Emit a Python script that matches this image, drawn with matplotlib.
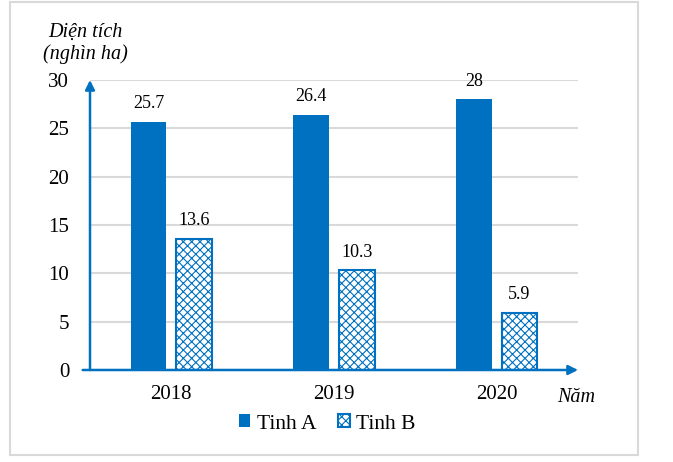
import matplotlib.pyplot as plt
import matplotlib.patches as mpatches
import numpy as np

years = ['2018', '2019', '2020']
tinh_a = [25.7, 26.4, 28]
tinh_b = [13.6, 10.3, 5.9]
labels_a = ['25.7', '26.4', '28']
labels_b = ['13.6', '10.3', '5.9']

blue = '#0070C0'
plt.rcParams['font.family'] = ['Liberation Serif', 'DejaVu Serif']
plt.rcParams['hatch.linewidth'] = 0.8
plt.rcParams['hatch.color'] = blue

fig = plt.figure(figsize=(6.73, 4.62), dpi=100)
ax = fig.add_axes([90 / 673, 92 / 462, 488 / 673, 290 / 462])

# outer frame
fig.patches.append(mpatches.Rectangle((10 / 673, 7 / 462), 628 / 673, 453 / 462,
                                      transform=fig.transFigure, fill=False,
                                      edgecolor='#d9d9d9', linewidth=1.5))

x = np.arange(len(years))
w = 0.22
off = 0.14
bars_a = ax.bar(x - off, tinh_a, w, color=blue, label='Tinh A', zorder=3)
bars_b = ax.bar(x + off, tinh_b, w, facecolor='white', edgecolor=blue,
                hatch='xxxx', linewidth=1.5, label='Tinh B', zorder=3)

for bars, labels in [(bars_a, labels_a), (bars_b, labels_b)]:
    for b, t in zip(bars, labels):
        ax.annotate(t, (b.get_x() + b.get_width() / 2, b.get_height()),
                    xytext=(0, 7), textcoords='offset points', ha='center',
                    va='bottom', fontsize=13)

ax.set_xlim(-0.5, 2.5)
ax.set_ylim(0, 30)
ax.set_yticks(range(0, 31, 5))
ax.set_xticks(x)
ax.set_xticklabels(years)
ax.tick_params(axis='both', length=0, labelsize=15)
ax.tick_params(axis='y', pad=15)
ax.tick_params(axis='x', pad=11)
ax.yaxis.grid(True, color='#d9d9d9', linewidth=1.5, zorder=0)
ax.set_axisbelow(True)
for s in ax.spines.values():
    s.set_visible(False)

# axis arrows
ax.annotate('', xy=(0, 1), xycoords='axes fraction', xytext=(0, 0),
            arrowprops=dict(arrowstyle='-|>', color=blue, lw=1.8,
                            mutation_scale=14, shrinkA=0, shrinkB=0))
ax.annotate('', xy=(1, 0), xycoords='axes fraction', xytext=(-0.015, 0),
            arrowprops=dict(arrowstyle='-|>', color=blue, lw=1.8,
                            mutation_scale=14, shrinkA=0, shrinkB=0))

fig.text(85 / 673, 1 - 32 / 462, 'Diện tích', ha='center', va='center',
         fontsize=14.5, style='italic')
fig.text(85 / 673, 1 - 54 / 462, '(nghìn ha)', ha='center', va='center',
         fontsize=14.5, style='italic')
fig.text(576 / 673, 1 - 398 / 462, 'Năm', ha='center', va='center',
         fontsize=14.5, style='italic')

fig.legend(handles=[bars_a, bars_b], loc='center', bbox_to_anchor=(327 / 673, 1 - 424 / 462),
           ncol=2, frameon=False, fontsize=15.5, handlelength=0.55, handleheight=0.55,
           handletextpad=0.3, columnspacing=1.0)

fig.savefig('out.png', dpi=100)
